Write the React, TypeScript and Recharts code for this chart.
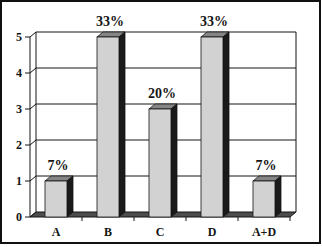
import { BarChart, Bar, XAxis, YAxis, CartesianGrid, LabelList } from 'recharts';

// values
const categories = ['A', 'B', 'C', 'D', 'A+D'];
const counts = [1, 5, 3, 5, 1];
const percentLabels = ['7%', '33%', '20%', '33%', '7%'];
const yTicks = [0, 1, 2, 3, 4, 5];

const data = categories.map((name, i) => ({ name, count: counts[i], pct: percentLabels[i] }));

// 3D depth offset (px)
const DX = 6;
const DY = 5;
const FONT = 'Liberation Serif, Times New Roman, serif';
const INK = '#141414';

const Bar3D = (props: any) => {
  const { x, y, width: w, height: h } = props;
  if (h == null || w == null) return null;
  return (
    <g>
      <polygon
        points={`${x},${y} ${x + DX},${y - DY} ${x + w + DX},${y - DY} ${x + w},${y}`}
        fill="#858585"
        stroke={INK}
        strokeWidth={0.8}
      />
      <polygon
        points={`${x + w},${y} ${x + w + DX},${y - DY} ${x + w + DX},${y + h - DY} ${x + w},${y + h}`}
        fill="#1a1a1a"
        stroke={INK}
        strokeWidth={0.8}
      />
      <rect x={x} y={y} width={w} height={h} fill="#d2d2d2" stroke={INK} strokeWidth={0.8} />
    </g>
  );
};

// gridlines sit on the back wall; the bottom one also draws the floor + wall edges
const GridLine = (props: any) => {
  const { x1, y1, x2, y2, y, height } = props;
  const isFloor = Math.abs(y1 - (y + height)) < 1;
  return (
    <g>
      {isFloor && (
        <>
          <polygon
            points={`${x1},${y1} ${x1 + DX},${y1 - DY} ${x2 + DX},${y2 - DY} ${x2},${y2}`}
            fill="#4d4d4d"
            stroke={INK}
            strokeWidth={1}
          />
          <line x1={x1 + DX} y1={y - DY} x2={x1 + DX} y2={y1 - DY} stroke={INK} strokeWidth={1} />
          <line x1={x2 + DX} y1={y - DY} x2={x2 + DX} y2={y2 - DY} stroke={INK} strokeWidth={1} />
        </>
      )}
      <line x1={x1} y1={y1} x2={x1 + DX} y2={y1 - DY} stroke={INK} strokeWidth={1} />
      {!isFloor && (
        <line x1={x1 + DX} y1={y1 - DY} x2={x2 + DX} y2={y2 - DY} stroke={INK} strokeWidth={1} />
      )}
    </g>
  );
};

const CategoryTick = (props: any) => {
  const { x, y, payload, width, visibleTicksCount } = props;
  const band = width && visibleTicksCount ? width / visibleTicksCount : 52;
  return (
    <g>
      <line x1={x + band / 2} y1={y} x2={x + band / 2} y2={y + 4} stroke={INK} strokeWidth={1} />
      <text
        x={x}
        y={y + 19}
        textAnchor="middle"
        fontFamily={FONT}
        fontWeight="bold"
        fontSize={12}
        fill={INK}
      >
        {payload.value}
      </text>
    </g>
  );
};

const PctLabel = (props: any) => {
  const { x, y, width, value } = props;
  return (
    <text
      x={x + width / 2 + 2}
      y={y - 11}
      textAnchor="middle"
      fontFamily={FONT}
      fontWeight="bold"
      fontSize={14}
      fill={INK}
    >
      {value}
    </text>
  );
};

export default function App() {
  return (
    <div style={{ position: 'fixed', left: 0, top: 0, width: 322, height: 247, background: '#fff' }}>
      <BarChart
        width={322}
        height={247}
        data={data}
        margin={{ top: 37, right: 32, bottom: 0, left: 0 }}
        barSize={22}
      >
        <CartesianGrid vertical={false} horizontal={GridLine} />
        <XAxis
          dataKey="name"
          height={30}
          axisLine={false}
          tickLine={false}
          tickSize={0}
          tickMargin={0}
          tick={<CategoryTick />}
          interval={0}
        />
        <YAxis
          width={30}
          domain={[0, 5]}
          ticks={yTicks}
          interval={0}
          axisLine={{ stroke: INK, strokeWidth: 1 }}
          tickLine={{ stroke: INK, strokeWidth: 1 }}
          tickSize={5}
          tickMargin={3}
          tick={{ fontFamily: FONT, fontWeight: 'bold', fontSize: 12, fill: INK }}
        />
        <Bar dataKey="count" shape={<Bar3D />} isAnimationActive={false}>
          <LabelList dataKey="pct" content={<PctLabel />} />
        </Bar>
      </BarChart>
      <div
        style={{
          position: 'absolute',
          left: 0,
          top: 0,
          width: 321,
          height: 244,
          border: '2px solid #111',
          boxSizing: 'border-box',
          pointerEvents: 'none',
        }}
      />
    </div>
  );
}
